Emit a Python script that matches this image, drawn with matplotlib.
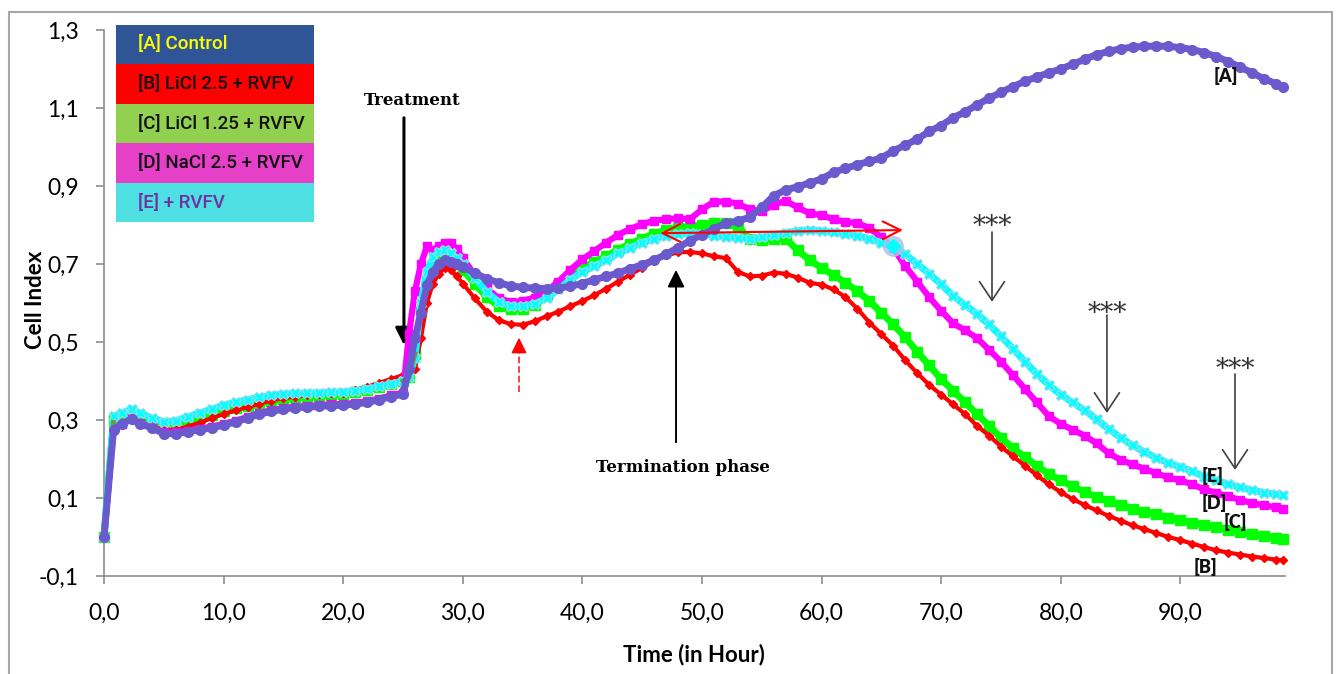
import matplotlib
matplotlib.use("Agg")
import matplotlib.pyplot as plt
from matplotlib.patches import Rectangle

W, H = 1338, 674

# time points (h)
hours = [0, 0.8, 1.5, 2.3, 3, 4, 5, 6, 7, 8, 9, 10, 11, 12, 13, 14, 15, 16, 17, 18, 19, 20, 21, 22, 23, 24, 25,
         25.5, 26, 26.5, 27, 27.5, 28, 28.5, 29, 29.5,
         30, 31, 32, 33, 34, 35, 36, 37, 38, 39,
         40, 41, 42, 43, 44, 45, 46, 47, 48, 49,
         50, 51, 52, 53, 54, 55, 56, 57, 58, 59,
         60, 61, 62, 63, 64, 65, 66, 67, 68, 69,
         70, 71, 72, 73, 74, 75, 76, 77, 78, 79,
         80, 81, 82, 83, 84, 85, 86, 87, 88, 89,
         90, 91, 92, 93, 94, 95, 96, 97, 98, 98.6]

# [A] Control
control = [0.00, 0.275, 0.29, 0.303, 0.29, 0.28, 0.265, 0.265, 0.27, 0.275, 0.28, 0.287, 0.295, 0.305, 0.315, 0.322, 0.328, 0.332, 0.333, 0.335, 0.337, 0.338, 0.341, 0.345, 0.352, 0.36, 0.366,
           0.43, 0.51, 0.575, 0.646, 0.68, 0.70, 0.71, 0.705, 0.70,
           0.692, 0.677, 0.662, 0.652, 0.644, 0.64, 0.638, 0.637, 0.638, 0.643,
           0.65, 0.66, 0.668, 0.677, 0.688, 0.698, 0.71, 0.725, 0.742, 0.76,
           0.775, 0.79, 0.805, 0.81, 0.82, 0.845, 0.875, 0.89, 0.898, 0.908,
           0.918, 0.935, 0.945, 0.955, 0.963, 0.972, 0.99, 1.005, 1.02, 1.04,
           1.055, 1.075, 1.09, 1.108, 1.125, 1.14, 1.155, 1.168, 1.18, 1.19,
           1.2, 1.212, 1.225, 1.237, 1.245, 1.252, 1.256, 1.258, 1.259, 1.258,
           1.255, 1.25, 1.242, 1.232, 1.219, 1.205, 1.19, 1.175, 1.162, 1.153]

# [B] LiCl 2.5 + RVFV
licl_25 = [0.00, 0.28, 0.29, 0.30, 0.292, 0.285, 0.275, 0.275, 0.283, 0.293, 0.305, 0.315, 0.325, 0.333, 0.342, 0.35, 0.356, 0.36, 0.363, 0.366, 0.368, 0.37, 0.378, 0.385, 0.395, 0.405, 0.415,
           0.42, 0.43, 0.51, 0.60, 0.65, 0.675, 0.69, 0.685, 0.668,
           0.65, 0.612, 0.578, 0.556, 0.546, 0.544, 0.553, 0.566, 0.578, 0.592,
           0.605, 0.62, 0.637, 0.655, 0.673, 0.69, 0.708, 0.722, 0.73, 0.731,
           0.727, 0.72, 0.715, 0.68, 0.668, 0.67, 0.678, 0.675, 0.665, 0.652,
           0.647, 0.635, 0.615, 0.585, 0.55, 0.52, 0.49, 0.453, 0.42, 0.39,
           0.365, 0.34, 0.315, 0.285, 0.26, 0.232, 0.207, 0.183, 0.158, 0.135,
           0.115, 0.097, 0.082, 0.068, 0.054, 0.042, 0.03, 0.02, 0.01, 0.0,
           -0.008, -0.017, -0.026, -0.034, -0.04, -0.045, -0.05, -0.054, -0.058, -0.06]

# [C] LiCl 1.25 + RVFV
licl_125 = [0.00, 0.30, 0.31, 0.318, 0.31, 0.30, 0.292, 0.292, 0.298, 0.305, 0.313, 0.322, 0.33, 0.337, 0.343, 0.35, 0.355, 0.358, 0.36, 0.362, 0.365, 0.367, 0.372, 0.378, 0.385, 0.393, 0.40,
            0.41, 0.47, 0.58, 0.66, 0.70, 0.715, 0.725, 0.72, 0.70,
            0.685, 0.65, 0.615, 0.592, 0.584, 0.585, 0.595, 0.622, 0.645, 0.668,
            0.69, 0.705, 0.72, 0.737, 0.752, 0.765, 0.778, 0.786, 0.792, 0.796,
            0.80, 0.805, 0.805, 0.795, 0.765, 0.762, 0.765, 0.765, 0.735, 0.71,
            0.69, 0.672, 0.652, 0.63, 0.605, 0.575, 0.545, 0.512, 0.475, 0.44,
            0.405, 0.375, 0.345, 0.315, 0.285, 0.255, 0.228, 0.205, 0.182, 0.162,
            0.145, 0.13, 0.115, 0.103, 0.092, 0.082, 0.073, 0.065, 0.058, 0.05,
            0.043, 0.037, 0.031, 0.025, 0.019, 0.012, 0.007, 0.002, -0.002, -0.004]

# [D] NaCl 2.5 + RVFV
nacl_25 = [0.00, 0.28, 0.29, 0.305, 0.292, 0.282, 0.268, 0.268, 0.273, 0.278, 0.283, 0.29, 0.298, 0.308, 0.318, 0.325, 0.33, 0.334, 0.336, 0.338, 0.34, 0.341, 0.344, 0.348, 0.355, 0.363, 0.37,
           0.52, 0.63, 0.70, 0.745, 0.737, 0.745, 0.755, 0.754, 0.738,
           0.715, 0.672, 0.638, 0.612, 0.603, 0.605, 0.614, 0.63, 0.655, 0.685,
           0.712, 0.733, 0.755, 0.775, 0.79, 0.802, 0.811, 0.815, 0.817, 0.815,
           0.84, 0.86, 0.86, 0.855, 0.84, 0.835, 0.852, 0.862, 0.845, 0.83,
           0.825, 0.815, 0.808, 0.805, 0.792, 0.768, 0.74, 0.695, 0.655, 0.615,
           0.58, 0.548, 0.53, 0.51, 0.48, 0.45, 0.415, 0.38, 0.345, 0.31,
           0.29, 0.275, 0.26, 0.24, 0.215, 0.198, 0.186, 0.175, 0.163, 0.153,
           0.145, 0.135, 0.122, 0.113, 0.104, 0.095, 0.087, 0.081, 0.076, 0.073]

# [E] + RVFV
rvfv = [0.00, 0.31, 0.318, 0.328, 0.318, 0.305, 0.295, 0.298, 0.308, 0.318, 0.328, 0.338, 0.345, 0.352, 0.358, 0.363, 0.367, 0.368, 0.369, 0.37, 0.371, 0.372, 0.375, 0.38, 0.386, 0.393, 0.40,
        0.41, 0.46, 0.60, 0.68, 0.718, 0.732, 0.736, 0.728, 0.715,
        0.70, 0.665, 0.628, 0.603, 0.592, 0.592, 0.598, 0.612, 0.635, 0.66,
        0.68, 0.695, 0.71, 0.727, 0.742, 0.755, 0.765, 0.772, 0.777, 0.779,
        0.777, 0.773, 0.77, 0.767, 0.765, 0.768, 0.774, 0.78, 0.785, 0.787,
        0.785, 0.781, 0.778, 0.772, 0.765, 0.755, 0.745, 0.725, 0.70, 0.675,
        0.648, 0.618, 0.595, 0.572, 0.545, 0.515, 0.483, 0.45, 0.418, 0.39,
        0.365, 0.345, 0.325, 0.302, 0.277, 0.255, 0.235, 0.218, 0.203, 0.19,
        0.18, 0.168, 0.155, 0.145, 0.135, 0.127, 0.12, 0.114, 0.11, 0.107]

legend_labels = ["[A] Control", "[B] LiCl 2.5 + RVFV", "[C] LiCl 1.25 + RVFV",
                 "[D] NaCl 2.5 + RVFV", "[E] + RVFV"]
legend_fill = ["#2F5597", "#FF0000", "#92D050", "#E63FC8", "#4DDFE2"]
legend_text = ["#FFFF00", "#111111", "#111111", "#111111", "#7030A0"]

yticks = [-0.1, 0.1, 0.3, 0.5, 0.7, 0.9, 1.1, 1.3]
xticks = [0, 10, 20, 30, 40, 50, 60, 70, 80, 90]

fig = plt.figure(figsize=(W / 100, H / 100), dpi=100)
ax = fig.add_axes([104 / W, 1 - 576 / H, 1181 / W, 546 / H])

# outer chart frame
fig.add_artist(Rectangle((9 / W, -0.05), (1332 - 9) / W, 1.05 - 12 / H, transform=fig.transFigure,
                         fill=False, edgecolor="#A6A6A6", lw=1.5))

def band(y, color, marker, lw, ms, z, **kw):
    ax.plot(hours, y, color=color, lw=lw, marker=marker, ms=ms, zorder=z,
            clip_on=False, solid_joinstyle="round", **kw)

band(licl_125, "#00FF00", "s", 5, 6.5, 3, mec="#00FF00")
band(licl_25, "#FF0000", "D", 3, 4.5, 4, mec="#FF0000")
band(nacl_25, "#FF00FF", "s", 4.5, 6, 5, mec="#FF00FF")
band(rvfv, "#00FFFF", "X", 5, 7.5, 6, mfc="#00FFFF", mec="#A5D8EE", mew=0.8)
band(control, "#6A5ACD", "o", 5, 7, 7, mec="#6A5ACD")

# olive connector of series C at the start and at treatment
ax.plot(hours[:2], licl_125[:2], ls="--", color="#6E9B3E", lw=3.5, zorder=6.5, clip_on=False)
ax.plot(hours[26:29], licl_125[26:29], ls="-", color="#6E9B3E", lw=3.5, zorder=6.5)

# highlighted point on series E
ax.plot(hours[72], rvfv[72], "o", ms=14, color="#A9C4E6", alpha=0.8, zorder=8)
ax.plot(hours[72], rvfv[72], "D", ms=7, color="#00FFFF", zorder=8.5)

ax.set_xlim(0, 98.75)
ax.set_ylim(-0.1, 1.3)
ax.set_xticks(xticks)
ax.set_xticklabels([f"{v:.1f}".replace(".", ",") for v in xticks])
ax.set_yticks(yticks)
ax.set_yticklabels([f"{v:.1f}".replace(".", ",") for v in yticks])
for s in ("top", "right"):
    ax.spines[s].set_visible(False)
for s in ("left", "bottom"):
    ax.spines[s].set_color("#8C8C8C")
    ax.spines[s].set_linewidth(1.2)
ax.tick_params(direction="out", length=6, width=1.2, color="#8C8C8C",
               labelsize=16.5, labelcolor="black")
ax.tick_params(axis="y", pad=12)
ax.tick_params(axis="x", pad=13)
for lab in ax.get_xticklabels() + ax.get_yticklabels():
    lab.set_family("Lato")

fig.text(35 / W, 1 - 300 / H, "Cell Index", rotation=90, ha="center", va="center",
         family="Lato", fontweight="bold", fontsize=16)
fig.text(694 / W, 1 - 655 / H, "Time (in Hour)", ha="center", va="center",
         family="Lato", fontweight="bold", fontsize=16)

# legend block
rows = [(25, 64), (64, 104), (104, 143), (143, 183), (183, 222)]
for (top, bot), lab, fc, tc in zip(rows, legend_labels, legend_fill, legend_text):
    fig.add_artist(Rectangle((116 / W, 1 - bot / H), 198 / W, (bot - top) / H,
                             transform=fig.transFigure, color=fc, lw=0))
    fig.text(138 / W, 1 - (top + bot) / 2 / H, lab, ha="left", va="center",
             color=tc, family="Roboto", fontweight="medium", fontsize=13.5)

# treatment arrow
ax.annotate("", xy=(25.08, 0.485), xytext=(25.08, 1.082),
            arrowprops=dict(arrowstyle="-|>", color="black", lw=2.2, mutation_scale=26))
ax.text(25.75, 1.118, "Treatment", ha="center", va="center", family="DejaVu Serif",
        fontweight="bold", fontsize=12)

# red dashed arrow at the minimum of series B
ax.plot([34.7, 34.7], [0.372, 0.49], ls="--", color="#FF3030", lw=1.3)
ax.annotate("", xy=(34.7, 0.518), xytext=(34.7, 0.488),
            arrowprops=dict(arrowstyle="-|>", color="#FF0000", lw=1, mutation_scale=24))

# termination phase arrow
ax.annotate("", xy=(47.83, 0.692), xytext=(47.83, 0.236),
            arrowprops=dict(arrowstyle="-|>", color="black", lw=1.4, mutation_scale=26),
            zorder=9)
ax.text(48.41, 0.179, "Termination phase", ha="center", va="center", family="DejaVu Serif",
        fontweight="bold", fontsize=12)

# red double-headed arrow across the plateau
ax.annotate("", xy=(66.8, 0.787), xytext=(46.5, 0.779),
            arrowprops=dict(arrowstyle="<->", color="#FF0000", lw=1.5, mutation_scale=32,
                            shrinkA=0, shrinkB=0), zorder=9)

# significance markers
for xs, y0, y1, ty in [(74.25, 0.782, 0.603, 0.777), (83.86, 0.569, 0.318, 0.554),
                       (94.57, 0.418, 0.172, 0.41)]:
    ax.annotate("", xy=(xs, y1), xytext=(xs, y0),
                arrowprops=dict(arrowstyle="->,head_length=0.45,head_width=0.3", color="#404040",
                                lw=1.2, mutation_scale=30, shrinkA=0, shrinkB=0))
    ax.text(xs, ty, "***", ha="center", va="baseline", family="DejaVu Serif",
            fontsize=19, color="#303030")

# series tags
for lab, tx, ty in [("[A]", 93.8, 1.182), ("[B]", 92.1, -0.077), ("[C]", 94.6, 0.038),
                    ("[D]", 92.8, 0.087), ("[E]", 92.7, 0.156)]:
    ax.text(tx, ty, lab, ha="center", va="center", family="Lato", fontweight="heavy",
            fontsize=13, color="#111111", zorder=10)

fig.savefig("out.png", dpi=100)
